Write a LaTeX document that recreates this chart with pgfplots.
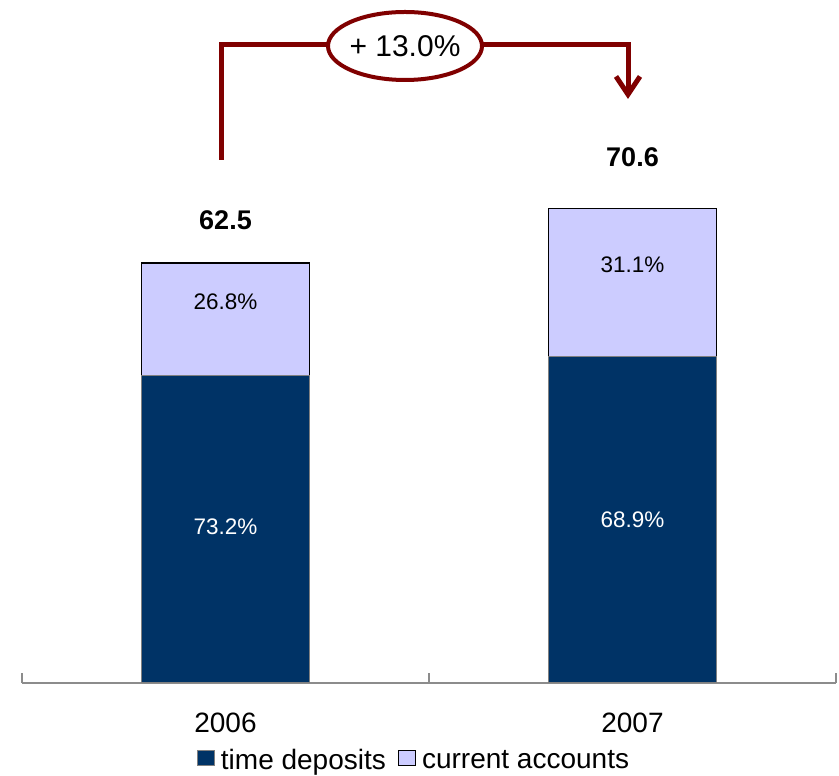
\documentclass[border=0pt]{standalone}
\usepackage{fontspec}
\setmainfont{Liberation Sans}
\usepackage{pgfplots}
\pgfplotsset{compat=1.18}
\usetikzlibrary{arrows.meta}
\definecolor{navy}{HTML}{003366}
\definecolor{lilac}{HTML}{CCCCFF}
\definecolor{darkred}{HTML}{800000}
\begin{document}
\begin{tikzpicture}[x=1pt,y=1pt]
\path[use as bounding box] (0,0) rectangle (839,776);
\begin{axis}[
  at={(22pt,93pt)}, anchor=south west,
  scale only axis, width=814pt, height=537.6pt,
  ybar stacked, bar width=168pt,
  xmin=-0.5, xmax=1.5, ymin=0, ymax=80,
  clip=false,
  axis x line*=bottom, axis y line=none,
  x axis line style={draw=gray!90, line width=1.2pt, -},
  xtick={0,1}, xticklabels={2006,2007}, major tick length=0pt,
  minor xtick={-0.5,0.5,1.5}, minor tick length=10pt, tick align=inside,
  minor tick style={draw=gray!90, line width=1.2pt},
  xticklabel style={inner sep=0pt, yshift=-30pt, font=\fontsize{28}{28}\selectfont},
  legend style={at={(axis description cs:0.4816,-0.143)}, anchor=center,
    draw=none, legend columns=-1, font=\fontsize{28}{28}\selectfont,
    /tikz/every odd column/.append style={column sep=4pt},
    /tikz/every even column/.append style={column sep=10pt},
    legend cell align=left},
  legend image code/.code={\draw[#1] (0pt,-6pt) rectangle (17pt,9pt);},
]
\addplot[fill=navy, draw=gray, line width=1pt] coordinates {(0,45.75) (1,48.64)};
\addlegendentry{time deposits}
\addplot[fill=lilac, draw=black, line width=1.2pt] coordinates {(0,16.75) (1,21.96)};
\addlegendentry{current accounts}

\coordinate (td6) at (axis cs:0,23.2);
\coordinate (td7) at (axis cs:1,24.3);
\coordinate (ca6) at (axis cs:0,56.7);
\coordinate (ca7) at (axis cs:1,62.2);
\coordinate (tot6) at (axis cs:0,68.9);
\coordinate (tot7) at (axis cs:1,78.3);
\end{axis}
% labels on top of the bars
\node[white, font=\fontsize{22.5}{22.5}\selectfont] at (td6) {73.2\%};
\node[white, font=\fontsize{22.5}{22.5}\selectfont] at (td7) {68.9\%};
\node[font=\fontsize{22.5}{22.5}\selectfont] at (ca6) {26.8\%};
\node[font=\fontsize{22.5}{22.5}\selectfont] at (ca7) {31.1\%};
\node[font=\bfseries\fontsize{27}{27}\selectfont] at (tot6) {62.5};
\node[font=\bfseries\fontsize{27}{27}\selectfont] at (tot7) {70.6};
% growth bracket
\draw[darkred, line width=5pt, -{Straight Barb[length=18pt,width=24pt]}]
  (221,616) -- (221,731) -- (628,731) -- (628,677);
\draw[darkred, line width=4pt, fill=white] (405,730) ellipse [x radius=77, y radius=34];
\node[font=\fontsize{30}{30}\selectfont] at (405,730) {+ 13.0\%};
\end{tikzpicture}
\end{document}
